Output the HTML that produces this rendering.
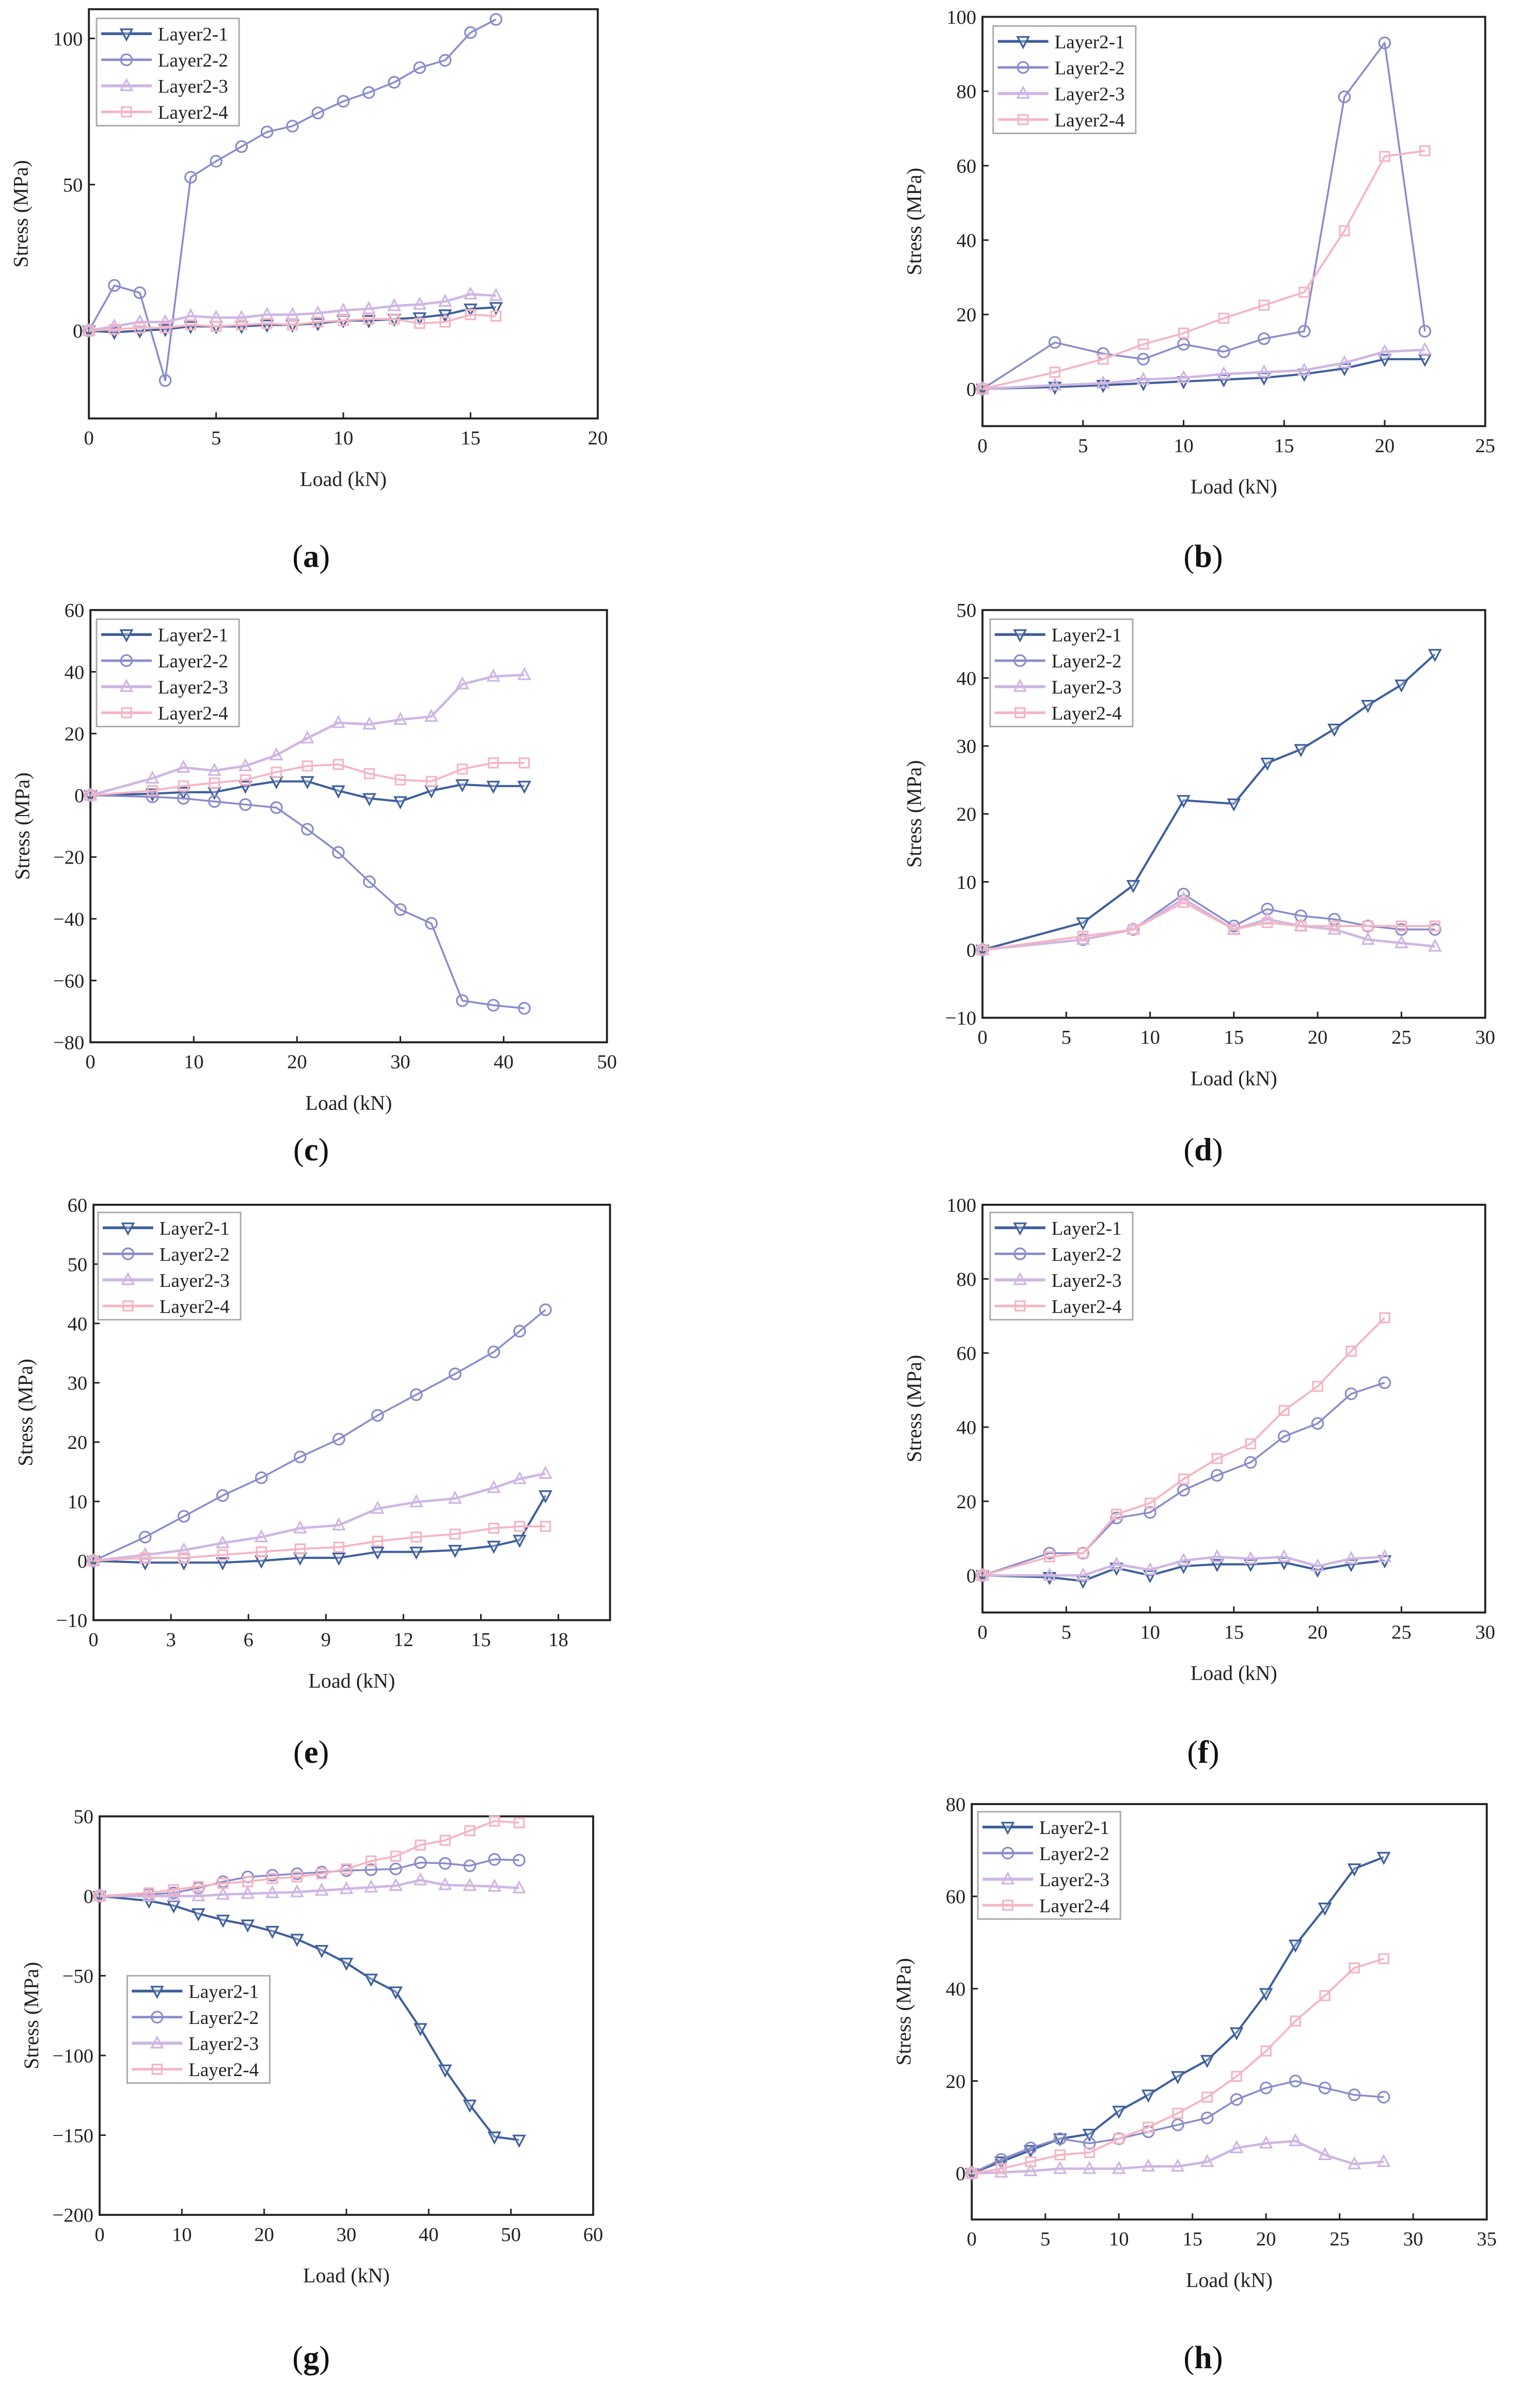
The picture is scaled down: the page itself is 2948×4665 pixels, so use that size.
<!DOCTYPE html>
<html><head><meta charset="utf-8"><style>
html,body{margin:0;padding:0;background:#fff;}
svg{display:block;font-family:"Liberation Serif",serif;}
</style></head>
<body>
<svg id="fig" width="2948" height="4665" viewBox="0 0 993 1571" preserveAspectRatio="none" xmlns="http://www.w3.org/2000/svg"></svg>
<script>
// ---- data ----
const loadA=[0,1,2,3,4,5,6,7,8,9,10,11,12,13,14,15,16];
const a1=[0,-0.5,0,0.5,1.5,1.5,1.5,2,2,2.5,3.5,3.5,4,4.5,5.5,7.5,8];
const a2=[0,15.5,13,-17,52.5,58,63,68,70,74.5,78.5,81.5,85,90,92.5,102,106.5];
const a3=[0,1.5,3,3,5,4.5,4.5,5.5,5.5,6,7,7.5,8.5,9,10,12.5,12];
const a4=[0,0.5,1,1,2,1.5,2,2.5,2,3,3.5,4,4,2.5,3,5.5,5];
const loadB=[0,3.6,6,8,10,12,14,16,18,20,22];
const b1=[0,0.5,1,1.5,2,2.5,3,4,5.5,8,8];
const b2=[0,12.5,9.5,8,12,10,13.5,15.5,78.5,93,15.5];
const b3=[0,1,1.5,2.5,3,4,4.5,5,7,10,10.5];
const b4=[0,4.5,8,12,15,19,22.5,26,42.5,62.5,64];
const loadC=[0,6,9,12,15,18,21,24,27,30,33,36,39,42];
const c1=[0,0.5,1,1,3,4.5,4.5,1.5,-1,-2,1.5,3.5,3,3];
const c2=[0,-0.5,-1,-2,-3,-4,-11,-18.5,-28,-37,-41.5,-66.5,-68,-69];
const c3=[0,5.5,9,8,9.5,13,18.5,23.5,23,24.5,25.5,36,38.5,39];
const c4=[0,1.5,3,4,5,7.5,9.5,10,7,5,4.5,8.5,10.5,10.5];
const loadD=[0,6,9,12,15,17,19,21,23,25,27];
const d1=[0,4,9.5,22,21.5,27.5,29.5,32.5,36,39,43.5];
const d2=[0,1.5,3,8.2,3.5,6,5,4.5,3.5,3,3];
const d3=[0,1.5,3,7.5,3,4.5,3.5,3,1.5,1,0.5];
const d4=[0,2,3,7,3,4,3.5,3.5,3.5,3.5,3.5];
const loadE=[0,2,3.5,5,6.5,8,9.5,11,12.5,14,15.5,16.5,17.5];
const e1=[0,-0.3,-0.3,-0.3,0,0.5,0.5,1.5,1.5,1.8,2.5,3.5,11];
const e2=[0,4,7.5,11,14,17.5,20.5,24.5,28,31.5,35.2,38.7,42.3];
const e3=[0,1,1.8,3,4,5.5,6,8.8,9.9,10.5,12.3,13.8,14.7];
const e4=[0,0.5,0.5,1,1.5,2,2.3,3.3,4,4.5,5.5,5.8,5.8];
const loadF=[0,4,6,8,10,12,14,16,18,20,22,24];
const f1=[0,-0.5,-1.5,2,0,2.5,3,3,3.5,1.5,3,4];
const f2=[0,6,6,15.5,17,23,27,30.5,37.5,41,49,52];
const f3=[0,0,0,3,1.5,4,5,4.5,5,2.5,4.5,5];
const f4=[0,5,6,16.5,19.5,26,31.5,35.5,44.5,51,60.5,69.5];
const loadG=[0,6,9,12,15,18,21,24,27,30,33,36,39,42,45,48,51];
const g1=[0,-3,-6,-11,-15,-18,-22,-27,-34,-42,-52,-60,-83,-109,-131,-151,-153];
const g2=[0,1,2,5,9,12,13,14,15,16,16.5,17,21,20.5,19,23,22.5];
const g3=[0,0,0,0,1,1.5,2,2.5,3.5,4.5,5.5,6.5,10,7,6.5,6,5];
const g4=[0,2,4,6,8,9,11,12,14,17,22,25,32,35,41,47,46];
const loadH=[0,2,4,6,8,10,12,14,16,18,20,22,24,26,28];
const h1=[0,2.5,5,7.5,8.5,13.5,17,21,24.5,30.5,39,49.5,57.5,66,68.5];
const h2=[0,3,5.5,7.5,6.5,7.5,9,10.5,12,16,18.5,20,18.5,17,16.5];
const h3=[0,0.2,0.5,1,1,1,1.5,1.5,2.5,5.5,6.5,7,4,2,2.5];
const h4=[0,1,2.5,4,4.5,7.5,10,13,16.5,21,26.5,33,38.5,44.5,46.5];
const xTicksA=[0,5,10,15,20], yTicksA=[0,50,100];
const xTicksB=[0,5,10,15,20,25], yTicksB=[0,20,40,60,80,100];
const xTicksC=[0,10,20,30,40,50], yTicksC=[-80,-60,-40,-20,0,20,40,60];
const xTicksD=[0,5,10,15,20,25,30], yTicksD=[-10,0,10,20,30,40,50];
const xTicksE=[0,3,6,9,12,15,18], yTicksE=[-10,0,10,20,30,40,50,60];
const xTicksF=[0,5,10,15,20,25,30], yTicksF=[0,20,40,60,80,100];
const xTicksG=[0,10,20,30,40,50,60], yTicksG=[-200,-150,-100,-50,0,50];
const xTicksH=[0,5,10,15,20,25,30,35], yTicksH=[0,20,40,60,80];
const seriesNames=["Layer2-1","Layer2-2","Layer2-3","Layer2-4"];

// ---- layout ----
const colors=["#3f5f9c","#8a8ccb","#cfb6e3","#f5b5c3"];
const widths=[1.4,1.2,1.6,1.3];
const panels=[
 {id:"a",x:loadA,s:[a1,a2,a3,a4],xt:xTicksA,yt:yTicksA,xd:[0,20],yd:[-30,110],L:58,R:390,T:6,B:273,lg:[63,12],cap:[203,370]},
 {id:"b",x:loadB,s:[b1,b2,b3,b4],xt:xTicksB,yt:yTicksB,xd:[0,25],yd:[-10,100],L:641,R:969,T:11,B:278,lg:[648,17],cap:[785,370]},
 {id:"c",x:loadC,s:[c1,c2,c3,c4],xt:xTicksC,yt:yTicksC,xd:[0,50],yd:[-80,60],L:59,R:396,T:398,B:680,lg:[63,404],cap:[203,757]},
 {id:"d",x:loadD,s:[d1,d2,d3,d4],xt:xTicksD,yt:yTicksD,xd:[0,30],yd:[-10,50],L:641,R:969,T:398,B:664,lg:[646,404],cap:[785,757]},
 {id:"e",x:loadE,s:[e1,e2,e3,e4],xt:xTicksE,yt:yTicksE,xd:[0,20],yd:[-10,60],L:61,R:398,T:786,B:1057,lg:[64,791],cap:[203,1150]},
 {id:"f",x:loadF,s:[f1,f2,f3,f4],xt:xTicksF,yt:yTicksF,xd:[0,30],yd:[-10,100],L:641,R:969,T:786,B:1052,lg:[646,791],cap:[785,1150]},
 {id:"g",x:loadG,s:[g1,g2,g3,g4],xt:xTicksG,yt:yTicksG,xd:[0,60],yd:[-200,50],L:65,R:387,T:1185,B:1445,lg:[83,1289],cap:[203,1545]},
 {id:"h",x:loadH,s:[h1,h2,h3,h4],xt:xTicksH,yt:yTicksH,xd:[0,35],yd:[-10,80],L:634,R:970,T:1177,B:1448,lg:[638,1182],cap:[785,1545]}
];
const NS="http://www.w3.org/2000/svg";
const svg=document.getElementById('fig');
function mk(tag,attrs,parent){const e=document.createElementNS(NS,tag);for(const k in attrs)e.setAttribute(k,attrs[k]);(parent||svg).appendChild(e);return e;}
function marker(g,k,x,y,col){
  const r=3.6;let m;
  if(k===0)m=mk('polygon',{points:`${x-r},${y-r*0.8} ${x+r},${y-r*0.8} ${x},${y+r*1.1}`,fill:"#fff","fill-opacity":"0.3",stroke:col,"stroke-width":1.1},g);
  else if(k===1)m=mk('circle',{cx:x,cy:y,r:r,fill:"none",stroke:col,"stroke-width":1.1},g);
  else if(k===2)m=mk('polygon',{points:`${x-r},${y+r*0.8} ${x+r},${y+r*0.8} ${x},${y-r*1.1}`,fill:"none",stroke:col,"stroke-width":1.1},g);
  else m=mk('rect',{x:x-r*0.85,y:y-r*0.85,width:r*1.7,height:r*1.7,fill:"none",stroke:col,"stroke-width":1.1},g);
  return m;
}
panels.forEach(p=>{
  const g=mk('g',{});
  
  
  const sx=v=>p.L+(v-p.xd[0])/(p.xd[1]-p.xd[0])*(p.R-p.L);
  const sy=v=>p.B-(v-p.yd[0])/(p.yd[1]-p.yd[0])*(p.B-p.T);
  const frame=mk('rect',{x:p.L,y:p.T,width:p.R-p.L,height:p.B-p.T,fill:"none",stroke:"#222","stroke-width":1.3},g);
  
  
  p.xt.forEach(t=>{
    const X=sx(t);
    mk('line',{x1:X,y1:p.B,x2:X,y2:p.B-4,stroke:"#222","stroke-width":1},g);
    const tx=mk('text',{x:X,y:p.B+17,"text-anchor":"middle","font-size":13,fill:"#222"},g);
    tx.textContent=t;
    
    
  });
  p.yt.forEach(t=>{
    const Y=sy(t);
    mk('line',{x1:p.L,y1:Y,x2:p.L+4,y2:Y,stroke:"#222","stroke-width":1},g);
    const tx=mk('text',{x:p.L-4,y:Y+4.5,"text-anchor":"end","font-size":13,fill:"#222"},g);
    tx.textContent=t<0?"\u2212"+(-t):t;
    
    
  });
  const xl=mk('text',{x:(p.L+p.R)/2,y:p.B+44,"text-anchor":"middle","font-size":13.5,fill:"#222"},g);
  xl.textContent="Load (kN)";
  
  
  const ycx=p.L-40, ycy=(p.T+p.B)/2;
  const yl=mk('text',{x:ycx,y:ycy,"text-anchor":"middle","font-size":13.5,fill:"#222",transform:`rotate(-90 ${ycx} ${ycy})`},g);
  yl.textContent="Stress (MPa)";
  
  
  const cap=mk('text',{x:p.cap[0],y:p.cap[1],"text-anchor":"middle","font-size":21,fill:"#111"},g);
  cap.innerHTML='(<tspan font-weight="bold">'+p.id+'</tspan>)';
  
  
  p.s.forEach((vals,k)=>{
    const sg=mk('g',{},g);
    
    
    const pts=vals.map((v,i)=>sx(p.x[i])+","+sy(v)).join(" ");
    const line=mk('polyline',{points:pts,fill:"none",stroke:colors[k],"stroke-width":widths[k],"stroke-linejoin":"round"},sg);
    
    
    vals.forEach((v,i)=>{
      const m=marker(sg,k,sx(p.x[i]),sy(v),colors[k]);
      
      
    });
  });
  const lx=p.lg[0], ly=p.lg[1];
  const lg=mk('g',{},g);
  
  
  mk('rect',{x:lx,y:ly,width:93,height:70,fill:"#fff",stroke:"#aaa","stroke-width":1},lg);
  seriesNames.forEach((n,k)=>{
    const yy=ly+10+k*17;
    const e=mk('g',{},lg);
    
    
    mk('line',{x1:lx+3,y1:yy,x2:lx+36,y2:yy,stroke:colors[k],"stroke-width":widths[k]+0.4},e);
    marker(e,k,lx+19.5,yy,colors[k]);
    const t=mk('text',{x:lx+40,y:yy+4.5,"font-size":12.5,fill:"#222"},e);
    t.textContent=n;
  });
});
</script>
</body></html>
